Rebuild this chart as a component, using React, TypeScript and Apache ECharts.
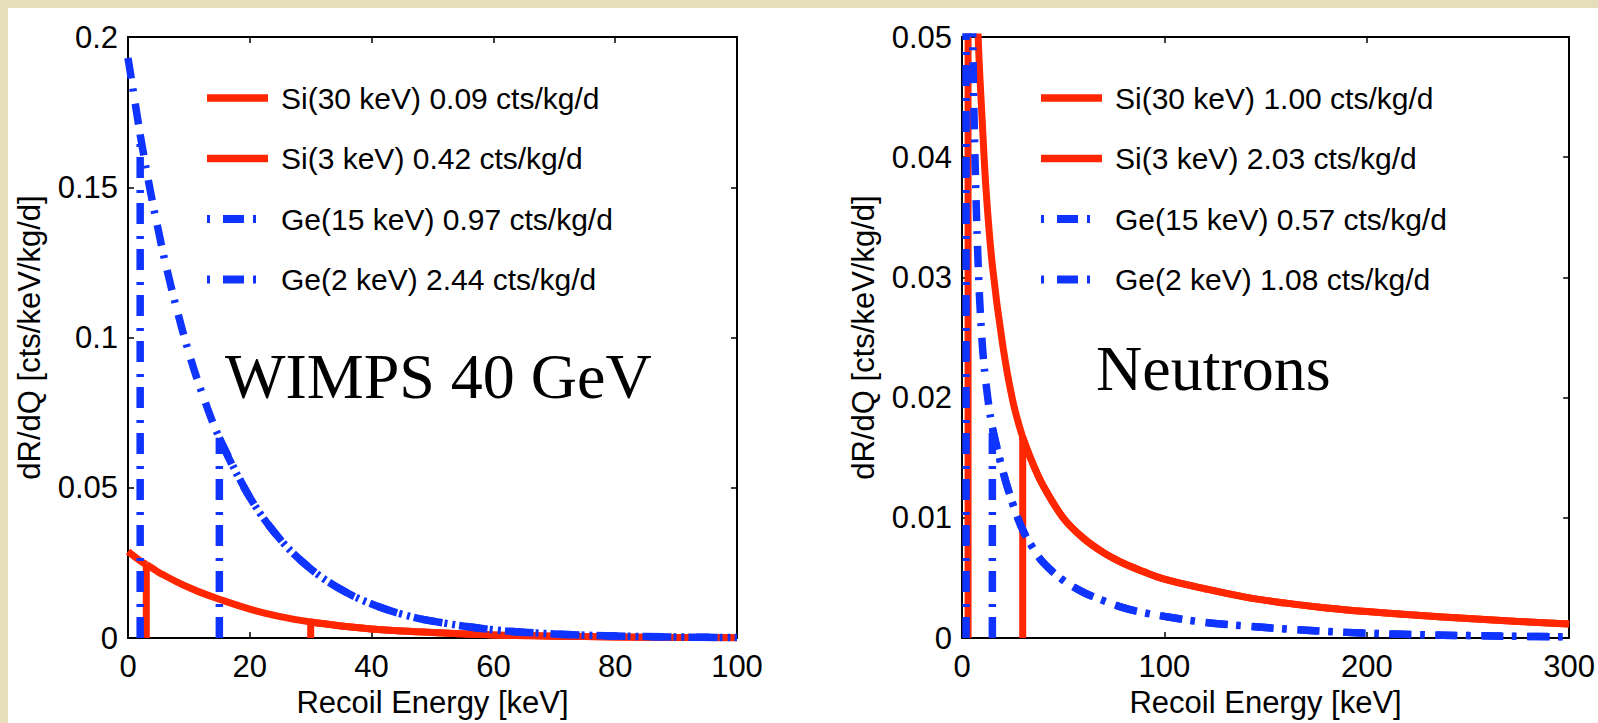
import React, { useEffect, useRef } from "react";
import * as echarts from "echarts";

// ---- data ----
const wimpEnergy = [0, 2, 3, 4, 5, 6, 8, 10, 12, 15, 20, 25, 30, 35, 40, 45, 50, 60, 70, 80, 90, 100];
const wimpSi = [0.0288, 0.0257, 0.0245, 0.0232, 0.0219, 0.0208, 0.0187, 0.0168, 0.0151, 0.0129, 0.0096, 0.0071, 0.0053, 0.004, 0.003, 0.0023, 0.0018, 0.001, 0.0006, 0.00035, 0.0002, 0.00012];
const wimpGe = [0.193, 0.1675, 0.156, 0.1453, 0.1355, 0.126, 0.1095, 0.0949, 0.0824, 0.0666, 0.0468, 0.0328, 0.023, 0.0161, 0.0113, 0.0079, 0.0056, 0.00274, 0.00135, 0.00066, 0.00033, 0.00016];

const neutEnergy = [0, 2, 3, 4, 5, 6, 8, 10, 12, 15, 20, 25, 30, 35, 40, 50, 60, 70, 80, 90, 100, 120, 140, 160, 180, 200, 225, 250, 275, 300];
const neutSi = [0.3, 0.14, 0.11, 0.088, 0.074, 0.064, 0.05, 0.043, 0.037, 0.031, 0.0245, 0.0198, 0.0167, 0.0145, 0.0127, 0.01, 0.0083, 0.0071, 0.0062, 0.0055, 0.0049, 0.0041, 0.0034, 0.0029, 0.0025, 0.0022, 0.0019, 0.00162, 0.00138, 0.00116];
const neutGe = [0.15, 0.09, 0.075, 0.063, 0.054, 0.043, 0.031, 0.0245, 0.021, 0.0175, 0.014, 0.0112, 0.009, 0.0075, 0.0063, 0.0048, 0.0038, 0.0031, 0.0025, 0.0021, 0.0018, 0.0013, 0.001, 0.00075, 0.00055, 0.0004, 0.00028, 0.0002, 0.00014, 0.0001];

const siThresholds = [30, 3];
const geThresholds = [15, 2];

const wimpLegend = ["Si(30 keV) 0.09 cts/kg/d", "Si(3 keV) 0.42 cts/kg/d", "Ge(15 keV) 0.97 cts/kg/d", "Ge(2 keV) 2.44 cts/kg/d"];
const neutLegend = ["Si(30 keV) 1.00 cts/kg/d", "Si(3 keV) 2.03 cts/kg/d", "Ge(15 keV) 0.57 cts/kg/d", "Ge(2 keV) 1.08 cts/kg/d"];

const wimpXTicks = { min: 0, max: 100, interval: 20 };
const wimpYTicks = { min: 0, max: 0.2, interval: 0.05 };
const neutXTicks = { min: 0, max: 300, interval: 100 };
const neutYTicks = { min: 0, max: 0.05, interval: 0.01 };

const xTitle = "Recoil Energy [keV]";
const yTitle = "dR/dQ [cts/keV/kg/d]";
const panelTitles = ["WIMPS 40 GeV", "Neutrons"];

// ---- styles ----
const RED = "#ff2600";
const BLUE = "#1034ff";
const SANS = "Liberation Sans, Arial, Helvetica, sans-serif";
const SERIF = "Liberation Serif, Times New Roman, serif";
const DASHDOT = [21, 10, 3, 12];

function verticalData(E: number[], V: number[], t: number) {
  const i = E.indexOf(t);
  return [[t, 0], [t, V[i]]];
}
function curveFrom(E: number[], V: number[], t: number) {
  const pts: number[][] = [];
  E.forEach((e, k) => {
    if (e >= t) pts.push([e, V[k]]);
  });
  return pts;
}
function curveUpTo(E: number[], V: number[], t: number) {
  const pts: number[][] = [];
  E.forEach((e, k) => {
    if (e <= t) pts.push([e, V[k]]);
  });
  return pts;
}

function fmt(v: number) {
  return String(+v.toFixed(4));
}

function axesFor(grid: number, xt: any, yt: any) {
  const axisLine = { show: true, onZero: false, lineStyle: { color: "#000", width: 2 } };
  const axisTick = { show: true, inside: true, length: 6, lineStyle: { color: "#000", width: 1.5 } };
  const x = [
    {
      type: "value", gridIndex: grid, position: "bottom", ...xt,
      axisLine, axisTick, splitLine: { show: false },
      axisLabel: { show: true, color: "#000", fontSize: 31, fontFamily: SANS, margin: 13, formatter: fmt },
      name: xTitle, nameLocation: "middle", nameGap: 49,
      nameTextStyle: { color: "#000", fontSize: 31, fontFamily: SANS },
    },
    {
      type: "value", gridIndex: grid, position: "top", ...xt,
      axisLine, axisTick, splitLine: { show: false }, axisLabel: { show: false },
    },
  ];
  const y = [
    {
      type: "value", gridIndex: grid, position: "left", ...yt,
      axisLine, axisTick, splitLine: { show: false },
      axisLabel: { show: true, color: "#000", fontSize: 31, fontFamily: SANS, margin: 10, formatter: fmt },
      name: yTitle, nameLocation: "middle", nameGap: 83,
      nameTextStyle: { color: "#000", fontSize: 31, fontFamily: SANS },
    },
    {
      type: "value", gridIndex: grid, position: "right", ...yt,
      axisLine, axisTick, splitLine: { show: false }, axisLabel: { show: false },
    },
  ];
  return { x, y };
}

function seriesFor(axisIdx: number, E: number[], Si: number[], Ge: number[], labels: string[]) {
  const red = { color: RED, width: 7, type: "solid", cap: "butt", join: "round" };
  const blue = { color: BLUE, width: 7.5, type: DASHDOT, cap: "butt", join: "round" };
  const base = { type: "line", xAxisIndex: axisIdx, yAxisIndex: axisIdx, showSymbol: false, symbol: "none", clip: true, silent: true };
  const curve = { ...base, smooth: 0.35 };
  const minSi = Math.min(...siThresholds);
  const minGe = Math.min(...geThresholds);
  return [
    { ...curve, name: "Si spectrum", data: curveUpTo(E, Si, minSi), lineStyle: red },
    { ...base, name: labels[0] + " threshold", data: verticalData(E, Si, siThresholds[0]), lineStyle: red },
    { ...curve, name: labels[0], data: curveFrom(E, Si, siThresholds[0]), lineStyle: red },
    { ...base, name: labels[1] + " threshold", data: verticalData(E, Si, siThresholds[1]), lineStyle: red },
    { ...curve, name: labels[1], data: curveFrom(E, Si, siThresholds[1]), lineStyle: red },
    { ...curve, name: "Ge spectrum", data: curveUpTo(E, Ge, minGe), lineStyle: blue },
    { ...base, name: labels[2] + " threshold", data: verticalData(E, Ge, geThresholds[0]), lineStyle: blue },
    { ...curve, name: labels[2], data: curveFrom(E, Ge, geThresholds[0]), lineStyle: blue },
    { ...base, name: labels[3] + " threshold", data: verticalData(E, Ge, geThresholds[1]), lineStyle: blue },
    { ...curve, name: labels[3], data: curveFrom(E, Ge, geThresholds[1]), lineStyle: blue },
  ];
}

function legendGraphic(x0: number, labels: string[]) {
  const els: any[] = [];
  labels.forEach((lab, i) => {
    const y = 90 + i * 60.5;
    const isRed = i < 2;
    els.push({
      type: "line",
      shape: { x1: x0, y1: y, x2: x0 + 61, y2: y },
      style: isRed
        ? { stroke: RED, lineWidth: 7.5 }
        : { stroke: BLUE, lineWidth: 8, lineDash: [3, 13, 21, 9], lineCap: "butt" },
      silent: true,
    });
    els.push({
      type: "text",
      x: x0 + 74,
      y,
      style: { text: lab, fontSize: 30, fontFamily: SANS, fill: "#000", verticalAlign: "middle", align: "left" },
      silent: true,
    });
  });
  return els;
}

export default function App() {
  const ref = useRef<HTMLDivElement>(null);
  useEffect(() => {
    if (!ref.current) return;
    const chart = echarts.init(ref.current, undefined, { renderer: "svg" });
    const a = axesFor(0, wimpXTicks, wimpYTicks);
    const b = axesFor(1, neutXTicks, neutYTicks);
    const option: any = {
      animation: false,
      backgroundColor: "#ffffff",
      grid: [
        { left: 120, top: 29, width: 609, height: 605, containLabel: false },
        { left: 954, top: 29, width: 608, height: 605, containLabel: false },
      ],
      xAxis: [...a.x, ...b.x],
      yAxis: [...a.y, ...b.y],
      series: [
        ...seriesFor(0, wimpEnergy, wimpSi, wimpGe, wimpLegend),
        ...seriesFor(2, neutEnergy, neutSi, neutGe, neutLegend),
      ],
      graphic: [
        ...legendGraphic(199, wimpLegend),
        ...legendGraphic(1033, neutLegend),
        {
          type: "text", x: 217, y: 368.5, silent: true,
          style: { text: panelTitles[0], fontSize: 64, fontFamily: SERIF, fill: "#000", verticalAlign: "middle", align: "left" },
        },
        {
          type: "text", x: 1088, y: 360.5, silent: true,
          style: { text: panelTitles[1], fontSize: 64, fontFamily: SERIF, fill: "#000", verticalAlign: "middle", align: "left" },
        },
      ],
    };
    chart.setOption(option);
    return () => chart.dispose();
  }, []);
  return (
    <div style={{ position: "fixed", left: 0, top: 0, width: 1598, height: 723, background: "#e6ddba", overflow: "hidden" }}>
      <div ref={ref} style={{ position: "absolute", left: 8, top: 8, width: 1590, height: 715, background: "#ffffff" }} />
    </div>
  );
}
